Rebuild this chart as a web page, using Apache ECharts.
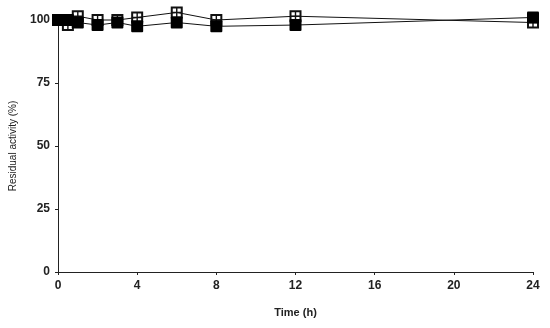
<!DOCTYPE html>
<html><head><meta charset="utf-8">
<script src="https://cdn.jsdelivr.net/npm/echarts@6/dist/echarts.min.js"></script>
<style>html,body{margin:0;padding:0;background:#fff}#c{width:550px;height:328px}</style>
</head><body><div id="c"></div>
<script>
var times = [0, 0.5, 1, 2, 3, 4, 6, 8, 12, 24];
var filledValues = [100, 100, 99, 98, 99, 97.5, 99, 97.5, 98, 101];
var openValues = [100, 98, 101.5, 100, 100, 101, 103, 100, 101.5, 99];
var xTicks = [0, 4, 8, 12, 16, 20, 24];
var yTicks = [0, 25, 50, 75, 100];

var openSymbol = 'path://M0,0 L12,0 L12,12 L0,12 Z M2,2 L2,5.3 L5.3,5.3 L5.3,2 Z M6.7,2 L6.7,5.3 L10,5.3 L10,2 Z M2,6.7 L2,10 L5.3,10 L5.3,6.7 Z M6.7,6.7 L6.7,10 L10,10 L10,6.7 Z';
var filledSymbol = 'path://M1,0 L11,0 Q12,0 12,1 L12,11 Q12,12 11,12 L1,12 Q0,12 0,11 L0,1 Q0,0 1,0 Z';

function pairs(v){ return times.map(function(t,i){ return [t, v[i]]; }); }

var chart = echarts.init(document.getElementById('c'));
var font = 'Liberation Sans, Arial, sans-serif';
chart.setOption({
  animation: false,
  grid: {left: 58, right: 17, top: 20, bottom: 56},
  xAxis: {
    type: 'value', min: 0, max: 24, interval: 4,
    axisLine: {lineStyle: {color: '#222', width: 1}},
    axisTick: {show: true, length: 3, lineStyle: {color: '#222'}},
    splitLine: {show: false},
    axisLabel: {color: '#222', fontFamily: font, fontSize: 12, fontWeight: 'bold', margin: 8,
      formatter: function(v){ return xTicks.indexOf(v) >= 0 ? String(v) : ''; }},
    name: 'Time (h)', nameLocation: 'middle', nameGap: 35,
    nameTextStyle: {color: '#222', fontFamily: font, fontSize: 11, fontWeight: 'bold'}
  },
  yAxis: {
    type: 'value', min: 0, max: 100, interval: 25,
    axisLine: {show: true, lineStyle: {color: '#222', width: 1}},
    axisTick: {show: true, length: 3, lineStyle: {color: '#222'}},
    splitLine: {show: false},
    axisLabel: {color: '#222', fontFamily: font, fontSize: 12, fontWeight: 'bold', margin: 8,
      formatter: function(v){ return yTicks.indexOf(v) >= 0 ? String(v) : ''; }},
    name: 'Residual activity (%)', nameLocation: 'middle', nameGap: 40, nameRotate: 90,
    nameTextStyle: {color: '#222', fontFamily: font, fontSize: 10}
  },
  series: [
    {type: 'line', data: pairs(openValues), symbol: openSymbol, symbolSize: 12, clip: false,
      lineStyle: {color: '#111', width: 1}, itemStyle: {color: '#111'}, z: 3},
    {type: 'line', data: pairs(filledValues), symbol: filledSymbol, symbolSize: 12, clip: false,
      lineStyle: {color: '#111', width: 1}, itemStyle: {color: '#000'}, z: 4}
  ]
});
</script></body></html>
